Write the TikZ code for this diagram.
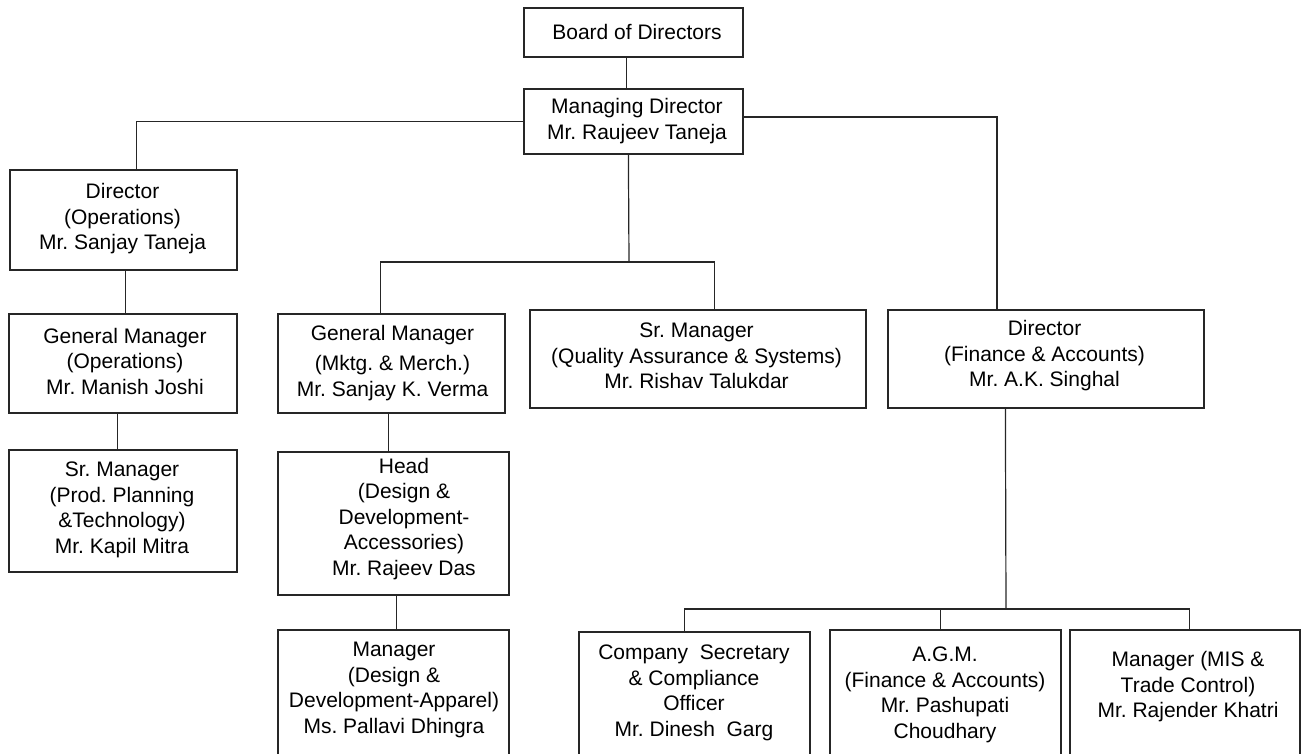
\documentclass[tikz,border=0pt]{standalone}
\usepackage{fontspec}
\setmainfont{Liberation Sans}
\begin{document}
\frenchspacing
\begin{tikzpicture}[x=1pt,y=-1pt,
  box/.style={draw=black!85, line width=1.2pt, inner sep=0pt, rectangle},
  txt/.style={align=center, inner sep=0pt, font=\fontsize{21}{25.5}\selectfont\frenchspacing},
  conn/.style={draw=black!85, line width=1.2pt}]
\useasboundingbox (0,0) rectangle (1302,753);
\clip (0,0) rectangle (1302,753);
% boxes
\node[box, minimum width=219pt, minimum height=49pt] (board) at (633.5,32.5) {};
\node[box, minimum width=219pt, minimum height=65pt] (md) at (633.5,121.5) {};
\node[box, minimum width=227pt, minimum height=100pt] (dirops) at (123.5,220) {};
\node[box, minimum width=228pt, minimum height=99pt] (gmops) at (123,363.5) {};
\node[box, minimum width=228pt, minimum height=122pt] (srprod) at (123,511) {};
\node[box, minimum width=227pt, minimum height=99pt] (gmmktg) at (391.5,363.5) {};
\node[box, minimum width=231pt, minimum height=143pt] (head) at (393.5,523.5) {};
\node[box, minimum width=231pt, minimum height=170pt] (mgrapp) at (393.5,715) {};
\node[box, minimum width=336pt, minimum height=98pt] (srq) at (698,359) {};
\node[box, minimum width=316pt, minimum height=98pt] (dirfin) at (1046,359) {};
\node[box, minimum width=231pt, minimum height=168pt] (cosec) at (694.5,716) {};
\node[box, minimum width=231pt, minimum height=170pt] (agm) at (945.5,715) {};
\node[box, minimum width=230pt, minimum height=170pt] (mis) at (1185,715) {};
% texts
\node[txt] (tboard) at (637,32) {Board of Directors};
\node[txt] (tmd) at (637,121) {Managing Director\\Mr. Raujeev Taneja};
\node[txt] (tdirops) at (122.5,219) {Director\\(Operations)\\Mr. Sanjay Taneja};
\node[txt] (tgmops) at (125,361) {General Manager\\(Operations)\\Mr. Manish Joshi};
\node[txt] (tsrprod) at (122,510) {Sr. Manager\\(Prod. Planning\\\&Technology)\\Mr. Kapil Mitra};
\node[txt] (tgmmktg) at (392.5,363) {General Manager\\[5pt](Mktg. \& Merch.)\\Mr. Sanjay K. Verma};
\node[txt] (thead) at (404,519) {Head\\(Design \&\\Development-\\Accessories)\\Mr. Rajeev Das};
\node[txt] (tmgrapp) at (394,690) {Manager\\(Design \&\\Development-Apparel)\\Ms. Pallavi Dhingra};
\node[txt] (tsrq) at (696.5,356) {Sr. Manager\\(Quality Assurance \& Systems)\\Mr. Rishav Talukdar};
\node[txt] (tdirfin) at (1044.5,356) {Director\\(Finance \& Accounts)\\Mr. A.K. Singhal};
\node[txt] (tcosec) at (694,693) {Company~~Secretary\\\& Compliance\\Officer\\Mr. Dinesh~~Garg};
\node[txt] (tagm) at (945,695) {A.G.M.\\(Finance \& Accounts)\\Mr. Pashupati\\Choudhary};
\node[txt] (tmis) at (1188,687) {Manager (MIS \&\\Trade Control)\\Mr. Rajender Khatri};
% junctions
\coordinate (rj) at (997,117);
\coordinate (mj) at (629,262);
\coordinate (fj) at (1006,609);
% connectors
\draw[conn] ([xshift=103pt]board.south west) -- ([xshift=103pt]md.north west);
\draw[conn] (md.west) -| ([xshift=127pt]dirops.north west);
\draw[conn] ([yshift=4.5pt]md.east) -- (rj) -- (rj |- dirfin.north);
\draw[conn] ([xshift=105pt]md.south west) -- (mj);
\draw[conn] ([xshift=103pt]gmmktg.north west) |- (mj) -| ([xshift=185pt]srq.north west);
\draw[conn] ([xshift=116pt]dirops.south west) -- ([xshift=116pt]dirops.south west |- gmops.north);
\draw[conn] ([xshift=109pt]gmops.south west) -- ([xshift=109pt]gmops.south west |- srprod.north);
\draw[conn] ([xshift=111pt]gmmktg.south west) -- ([xshift=111pt]gmmktg.south west |- head.north);
\draw[conn] ([xshift=119pt]head.south west) -- ([xshift=119pt]head.south west |- mgrapp.north);
\draw[conn] ([xshift=118pt]dirfin.south west) -- (fj);
\draw[conn] ([xshift=106pt]cosec.north west) |- (fj) -| ([xshift=120pt]mis.north west);
\draw[conn] ([xshift=111pt]agm.north west) -- ([xshift=111pt]agm.north west |- fj);
\end{tikzpicture}
\end{document}
